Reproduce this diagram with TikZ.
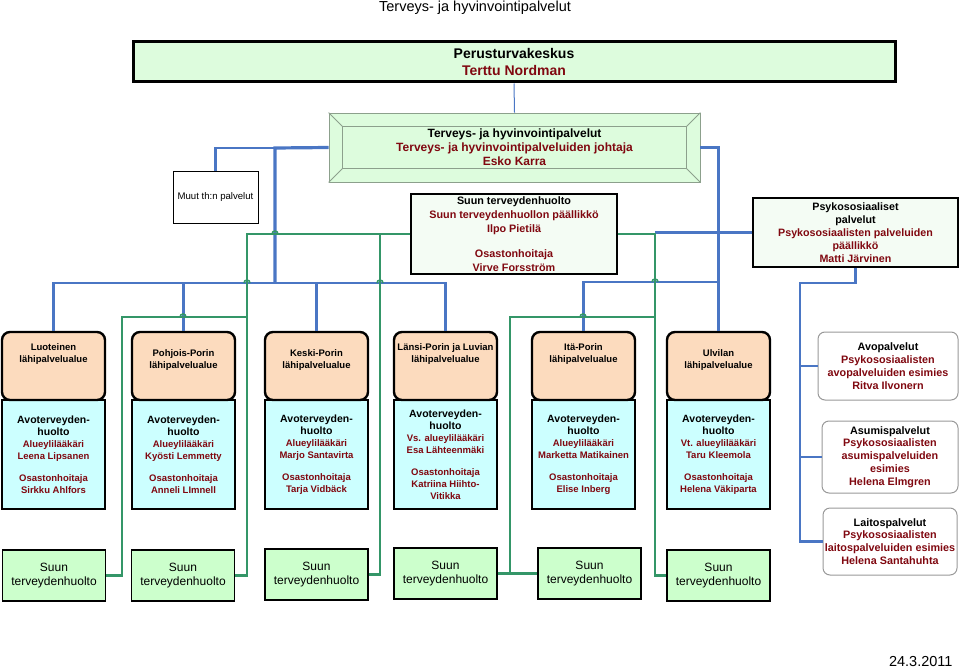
\documentclass[tikz,border=0pt]{standalone}
\usepackage{fontspec}
\setmainfont{Liberation Sans}
\usetikzlibrary{positioning}

\definecolor{darkred}{RGB}{128,8,16}
\definecolor{mintfill}{RGB}{221,252,221}
\definecolor{palefill}{RGB}{244,252,244}
\definecolor{peachfill}{RGB}{252,219,190}
\definecolor{cyanfill}{RGB}{204,255,255}
\definecolor{leaffill}{RGB}{204,255,204}
\definecolor{linkblue}{RGB}{74,118,196}
\definecolor{linkgreen}{RGB}{52,150,104}
\definecolor{bevelgray}{RGB}{140,160,140}

\newcommand{\redline}[1]{\textcolor{darkred}{#1}}
\newcommand{\avohead}[1]{{\fontsize{10.5}{12}\selectfont #1}}

\begin{document}
\begin{tikzpicture}[
  x=1pt, y=-1pt,
  mainbox/.style={draw, line width=3pt, fill=mintfill, align=center, minimum width=762, minimum height=40, font=\fontsize{14}{17}\selectfont\bfseries},
  bevelbox/.style={draw=bevelgray, line width=0.8pt, fill=mintfill, align=center, minimum width=371, minimum height=69, font=\fontsize{12}{14}\selectfont\bfseries},
  bevel/.style={draw=bevelgray, line width=0.8pt},
  plainbox/.style={draw, line width=1pt, fill=white, minimum width=85, minimum height=51, font=\fontsize{9.6}{11}\selectfont},
  unitbox/.style={draw, line width=1.4pt, fill=palefill, align=center, inner sep=2pt, font=\fontsize{10.8}{14}\selectfont\bfseries},
  areabox/.style={draw, line width=2.4pt, rounded corners=8pt, fill=peachfill, minimum width=103, minimum height=68},
  areatext/.style={align=center, inner sep=0pt, font=\fontsize{9.5}{12}\selectfont\bfseries},
  staffbox/.style={draw, line width=1.4pt, fill=cyanfill, align=center, minimum width=103, minimum height=109, inner sep=1pt, font=\fontsize{9.5}{12}\selectfont\bfseries},
  dentbox/.style={draw, line width=1.4pt, fill=leaffill, align=center, minimum width=103, minimum height=51, font=\fontsize{12}{13.5}\selectfont},
  psybox/.style={draw=black!40, line width=1pt, rounded corners=7pt, fill=white, align=center, inner sep=1pt, font=\fontsize{10.8}{12.8}\selectfont\bfseries},
  bluethin/.style={draw=linkblue, line width=1pt},
  blueline/.style={draw=linkblue, line width=2.2pt},
  bluebold/.style={draw=linkblue, line width=3.2pt},
  greenline/.style={draw=linkgreen, line width=2.4pt}
]
\useasboundingbox (0,0) rectangle (960,671);

% --- Top levels ---
\node[font=\fontsize{14.5}{16}\selectfont] (title) at (475,8) {Terveys- ja hyvinvointipalvelut};

\node[mainbox] (ptk) at (514,62) {Perusturvakeskus\\\redline{Terttu Nordman}};

\node[bevelbox] (thp) at (514.5,147.5) {Terveys- ja hyvinvointipalvelut\\
  \redline{Terveys- ja hyvinvointipalveluiden johtaja}\\\redline{Esko Karra}};
\draw[bevel] ([xshift=14pt,yshift=-14pt]thp.north west) rectangle ([xshift=-14pt,yshift=14pt]thp.south east);
\foreach \c/\dx/\dy in {north west/14/-14, north east/-14/-14, south west/14/14, south east/-14/14}
  \draw[bevel] (thp.\c) -- ++(\dx pt,\dy pt);

\node[plainbox] (muut) at (215.5,197.5) {Muut th:n palvelut};

\node[unitbox, minimum width=206, minimum height=80] (suun) at (514,234) {Suun terveydenhuolto\\
  \redline{Suun terveydenhuollon päällikkö}\\\redline{Ilpo Pietilä}\\[11pt]
  \redline{Osastonhoitaja}\\\redline{Virve Forsström}};

\node[unitbox, minimum width=205, minimum height=69, font=\fontsize{10.7}{13}\selectfont\bfseries] (psyk) at (855.5,232.5)
  {Psykososiaaliset\\palvelut\\\redline{Psykososiaalisten palveluiden}\\\redline{päällikkö}\\\redline{Matti Järvinen}};

% --- Staff boxes (under the area boxes) ---
\node[staffbox] (lustaff) at (53.5,454.5) {\avohead{Avoterveyden-}\\\avohead{huolto}\\
  \redline{Alueylilääkäri}\\\redline{Leena Lipsanen}\\[10pt]\redline{Osastonhoitaja}\\\redline{Sirkku Ahlfors}};
\node[staffbox] (postaff) at (183.5,454.5) {\avohead{Avoterveyden-}\\\avohead{huolto}\\
  \redline{Alueylilääkäri}\\\redline{Kyösti Lemmetty}\\[10pt]\redline{Osastonhoitaja}\\\redline{Anneli LImnell}};
\node[staffbox] (kestaff) at (316.5,454.5) {\avohead{Avoterveyden-}\\\avohead{huolto}\\
  \redline{Alueylilääkäri}\\\redline{Marjo Santavirta}\\[10pt]\redline{Osastonhoitaja}\\\redline{Tarja Vidbäck}};
\node[staffbox] (lastaff) at (445.5,454.5) {\avohead{Avoterveyden-}\\\avohead{huolto}\\
  \redline{Vs. alueylilääkäri}\\\redline{Esa Lähteenmäki}\\[10pt]\redline{Osastonhoitaja}\\\redline{Katriina Hiihto-}\\\redline{Vitikka}};
\node[staffbox] (itstaff) at (583.5,454.5) {\avohead{Avoterveyden-}\\\avohead{huolto}\\
  \redline{Alueylilääkäri}\\\redline{Marketta Matikainen}\\[10pt]\redline{Osastonhoitaja}\\\redline{Elise Inberg}};
\node[staffbox] (ulstaff) at (718.5,454.5) {\avohead{Avoterveyden-}\\\avohead{huolto}\\
  \redline{Vt. alueylilääkäri}\\\redline{Taru Kleemola}\\[10pt]\redline{Osastonhoitaja}\\\redline{Helena Väkiparta}};

% --- Area boxes ---
\node[areabox] (lu) at (53.5,366) {};
\node[areabox] (po) at (183.5,366) {};
\node[areabox] (ke) at (316.5,366) {};
\node[areabox] (la) at (445.5,366) {};
\node[areabox] (it) at (583.5,366) {};
\node[areabox] (ul) at (718.5,366) {};
\node[areatext] (lutext) at (53.5,354) {Luoteinen\\lähipalvelualue};
\node[areatext] (potext) at (183.5,360) {Pohjois-Porin\\lähipalvelualue};
\node[areatext] (ketext) at (316.5,360) {Keski-Porin\\lähipalvelualue};
\node[areatext] (latext) at (445.5,354) {Länsi-Porin ja Luvian\\lähipalvelualue};
\node[areatext] (ittext) at (583.5,354) {Itä-Porin\\lähipalvelualue};
\node[areatext] (ultext) at (718.5,360) {Ulvilan\\lähipalvelualue};

% --- Dental boxes ---
\node[dentbox] (lusuun) at (54,575.5) {Suun\\terveydenhuolto};
\node[dentbox] (posuun) at (183,575.5) {Suun\\terveydenhuolto};
\node[dentbox] (kesuun) at (316.5,574.5) {Suun\\terveydenhuolto};
\node[dentbox] (lasuun) at (445.5,573.5) {Suun\\terveydenhuolto};
\node[dentbox] (itsuun) at (589.5,573.5) {Suun\\terveydenhuolto};
\node[dentbox] (ulsuun) at (718.5,575.5) {Suun\\terveydenhuolto};

% --- Psychosocial units ---
\node[psybox, minimum width=140, minimum height=68] (avo) at (888,366) {Avopalvelut\\
  \redline{Psykososiaalisten}\\\redline{avopalveluiden esimies}\\\redline{Ritva Ilvonern}};
\node[psybox, minimum width=136, minimum height=72] (asu) at (890,457) {Asumispalvelut\\
  \redline{Psykososiaalisten}\\\redline{asumispalveluiden}\\\redline{esimies}\\\redline{Helena Elmgren}};
\node[psybox, minimum width=134, minimum height=67] (lai) at (890,541.5) {Laitospalvelut\\
  \redline{Psykososiaalisten}\\\redline{laitospalveluiden esimies}\\\redline{Helena Santahuhta}};

\node[font=\fontsize{14.5}{16}\selectfont, anchor=east] (date) at (956,662) {24.3.2011};

% --- Junctions ---
\coordinate (jl) at (275,148);
\coordinate (jb) at (275,283);
\coordinate (jr) at (718.5,282);
\coordinate (jp) at (800,283);
\coordinate (gl) at (247,234);
\coordinate (gm) at (380,234);
\coordinate (gk) at (247,317);
\coordinate (g1) at (122,317);
\coordinate (gr) at (655,234);
\coordinate (gs) at (655,317);
\coordinate (g4) at (510,317);

% --- Blue lines ---
\draw[bluethin] (ptk.south) -- (thp.north);
\draw[bluebold] (thp.west) -- (jl) -- (jb);
\draw[blueline] (jl) -| (muut);
\draw[blueline] (lu) |- (jb) -| (la);
\draw[blueline] (po) -- (po |- jb);
\draw[blueline] (ke) -- (ke |- jb);
\draw[bluebold] (thp.east) -| (ul);
\draw[blueline] (jr) -| (it);
\draw[blueline] (psyk.west) -- (psyk.west -| gr);
\draw[blueline] (psyk) |- (jp) |- (lai);
\draw[blueline] (jp) |- (avo);
\draw[blueline] (jp) |- (asu);

% --- Green lines ---
\draw[greenline] (suun.west) -- (gl) |- (posuun);
\draw[greenline] (gm) |- (kesuun);
\draw[greenline] (gk) -- (g1) |- (lusuun);
\draw[greenline] (suun.east) -- (gr) |- (ulsuun);
\draw[greenline] (gs) -- (g4) |- (lasuun);
\draw[greenline] (lasuun) -- (itsuun);

% line hops
\foreach \x/\y in {275/234, 247/283, 380/283, 183/317, 655/282, 583/317}
  \draw[greenline, line width=1.6pt] ([xshift=-3pt]\x,\y) arc[start angle=180, end angle=0, radius=3pt];

\end{tikzpicture}
\end{document}
